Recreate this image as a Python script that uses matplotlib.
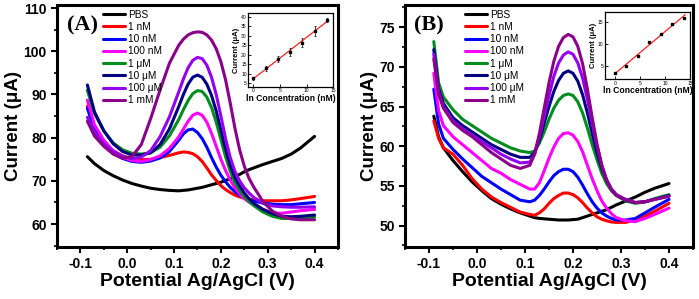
import numpy as np
import matplotlib
matplotlib.use("Agg")
import matplotlib.pyplot as plt
from matplotlib.ticker import MultipleLocator

plt.rcParams['font.family'] = ['Liberation Sans', 'DejaVu Sans']

labels = ["PBS", "1 nM", "10 nM", "100 nM", "1 \u03bcM", "10 \u03bcM", "100 \u03bcM", "1 mM"]
colors = ["#000000", "#ff0000", "#0000ff", "#ff00ff", "#008c1e", "#000080", "#9400f0", "#8b008b"]

# ---------------- Panel A data ----------------
xa = [-0.085, -0.07, -0.05, -0.03, -0.01, 0.01, 0.03, 0.05, 0.07, 0.09, 0.11, 0.12,
      0.13, 0.14, 0.15, 0.16, 0.17, 0.18, 0.19, 0.20, 0.21, 0.22, 0.23, 0.24, 0.25,
      0.26, 0.27, 0.29, 0.31, 0.33, 0.35, 0.37, 0.40]
a_pbs = [75.6, 74.0, 72.4, 71.2, 70.2, 69.4, 68.8, 68.3, 68.0, 67.8, 67.7, 67.8,
         67.9, 68.1, 68.3, 68.5, 68.8, 69.1, 69.4, 69.7, 70.1, 70.5, 71.0, 71.5, 72.1,
         72.6, 73.0, 73.8, 74.5, 75.2, 76.2, 77.6, 80.3]
a_1nM = [87.3, 82.0, 78.8, 77.0, 75.8, 75.1, 74.9, 75.0, 75.4, 75.9, 76.5, 76.7,
         76.6, 76.3, 75.6, 74.5, 73.0, 71.4, 70.1, 68.9, 68.0, 67.3, 66.7, 66.3, 66.0,
         65.8, 65.6, 65.4, 65.4, 65.4, 65.6, 65.9, 66.4]
a_10nM = [86.8, 81.8, 78.6, 76.6, 75.2, 74.5, 74.3, 74.6, 75.3, 76.8, 79.4, 80.9,
          81.8, 82.0, 81.2, 79.8, 77.8, 75.4, 73.2, 71.3, 69.8, 68.5, 67.5, 66.7, 66.1,
          65.6, 65.3, 64.9, 64.6, 64.5, 64.5, 64.7, 65.0]
a_100nM = [88.7, 83.0, 79.4, 77.0, 75.5, 74.7, 74.5, 74.9, 75.8, 77.5, 80.2, 82.0,
           83.8, 85.2, 85.7, 85.2, 83.6, 81.0, 78.0, 75.0, 72.4, 70.2, 68.4, 67.0, 65.9,
           65.1, 64.5, 63.4, 62.6, 62.5, 62.8, 63.1, 63.4]
a_1uM = [91.0, 85.6, 81.6, 78.8, 77.2, 76.4, 76.2, 76.5, 77.8, 80.4, 84.2, 86.5,
         88.6, 90.2, 90.9, 90.7, 89.4, 87.0, 83.6, 79.6, 75.6, 72.2, 69.6, 67.8, 66.4,
         65.2, 64.3, 62.8, 61.8, 61.3, 61.3, 61.4, 61.6]
a_10uM = [92.2, 86.0, 81.6, 78.6, 76.8, 76.0, 76.0, 76.5, 78.4, 82.0, 87.2, 90.0,
          92.4, 94.0, 94.5, 94.0, 92.4, 89.8, 86.2, 81.8, 77.4, 73.6, 70.8, 68.8, 67.2,
          65.9, 64.8, 63.4, 62.4, 61.8, 61.7, 61.8, 62.1]
a_100uM = [84.7, 81.2, 78.6, 76.8, 75.7, 75.1, 75.5, 77.0, 80.2, 84.8, 90.6, 93.6,
           96.2, 97.9, 98.6, 98.3, 96.8, 94.0, 90.0, 85.0, 79.8, 75.4, 72.2, 70.0, 68.4,
           67.2, 66.2, 64.8, 64.2, 64.0, 63.9, 63.9, 64.0]
a_1mM = [83.8, 80.4, 78.0, 76.2, 75.2, 75.6, 78.4, 84.4, 91.0, 97.2, 101.4, 102.8,
         103.8, 104.3, 104.5, 104.4, 103.8, 102.6, 100.6, 97.6, 93.4, 88.0, 82.2, 77.2, 73.4,
         70.6, 68.6, 65.2, 63.0, 61.8, 61.2, 61.0, 61.0]

# ---------------- Panel B data ----------------
xb = [-0.09, -0.08, -0.07, -0.05, -0.03, -0.01, 0.01, 0.03, 0.05, 0.07, 0.09,
      0.11, 0.12, 0.13, 0.14, 0.15, 0.16, 0.17, 0.18, 0.19, 0.20, 0.21, 0.22, 0.23,
      0.24, 0.25, 0.26, 0.27, 0.28, 0.29, 0.31, 0.33, 0.35, 0.37, 0.40]
b_pbs = [63.8, 61.2, 59.8, 58.2, 56.8, 55.5, 54.4, 53.4, 52.7, 52.1, 51.6,
         51.2, 51.0, 50.9, 50.85, 50.8, 50.75, 50.7, 50.7, 50.7, 50.75, 50.8, 51.0, 51.2,
         51.4, 51.6, 51.8, 52.0, 52.3, 52.6, 53.1, 53.6, 54.2, 54.7, 55.3]
b_1nM = [63.2, 61.0, 59.8, 59.0, 57.6, 55.9, 54.6, 53.6, 52.9, 52.3, 51.7,
         51.4, 51.3, 51.6, 52.1, 52.8, 53.4, 53.8, 54.1, 54.1, 53.9, 53.5, 52.9, 52.2,
         51.6, 51.1, 50.8, 50.6, 50.45, 50.4, 50.4, 50.7, 51.2, 51.8, 52.8]
b_10nM = [67.2, 62.8, 61.0, 59.6, 58.4, 57.3, 56.2, 55.4, 54.6, 53.9, 53.2,
          53.0, 53.2, 53.8, 54.6, 55.5, 56.3, 56.8, 57.1, 57.1, 56.8, 56.1, 55.1, 54.0,
          53.0, 52.2, 51.6, 51.2, 50.9, 50.7, 50.7, 50.9, 51.6, 52.3, 53.3]
b_100nM = [69.2, 64.5, 62.6, 61.2, 60.2, 59.2, 58.2, 57.2, 56.6, 55.8, 55.2,
           54.6, 54.6, 55.4, 56.9, 58.5, 59.9, 61.0, 61.6, 61.7, 61.4, 60.6, 59.3, 57.6,
           55.9, 54.4, 53.1, 52.2, 51.5, 51.0, 50.6, 50.5, 50.9, 51.4, 52.2]
b_1uM = [73.2, 68.0, 66.2, 64.6, 63.4, 62.6, 61.8, 61.0, 60.4, 59.8, 59.4,
         59.2, 59.4, 60.4, 61.8, 63.4, 64.8, 65.8, 66.4, 66.6, 66.4, 65.6, 64.2, 62.3,
         60.2, 58.3, 56.6, 55.3, 54.4, 53.8, 53.1, 52.8, 53.0, 53.4, 53.9]
b_10uM = [72.2, 67.2, 65.4, 63.6, 62.6, 61.8, 61.0, 60.2, 59.6, 59.0, 58.6,
          58.6, 59.2, 60.8, 62.9, 65.0, 66.9, 68.3, 69.2, 69.5, 69.2, 68.2, 66.5, 64.2,
          61.6, 59.2, 57.2, 55.7, 54.6, 53.9, 53.2, 52.9, 53.0, 53.3, 53.8]
b_100uM = [71.6, 66.8, 65.0, 63.2, 62.2, 61.4, 60.6, 59.8, 59.0, 58.4, 57.9,
           58.0, 59.0, 61.2, 63.8, 66.4, 68.8, 70.5, 71.5, 71.9, 71.6, 70.5, 68.6, 65.9,
           62.9, 60.0, 57.6, 55.8, 54.6, 53.9, 53.3, 52.9, 53.0, 53.3, 53.7]
b_1mM = [71.0, 66.6, 64.8, 63.0, 62.0, 61.2, 60.2, 59.2, 58.4, 57.6, 57.2,
         57.6, 59.0, 61.6, 64.8, 68.0, 70.7, 72.6, 73.7, 74.1, 73.8, 72.6, 70.4, 67.2,
         63.6, 60.3, 57.6, 55.7, 54.5, 53.8, 53.2, 52.9, 53.0, 53.3, 53.7]

# ---------------- Inset data ----------------
ln_conc = [0, 2.3, 4.6, 6.9, 9.2, 11.5, 13.8]
ins_a = [7.6, 12.9, 17.6, 21.6, 26.4, 32.5, 38.3]
ins_a_err = [0.8, 1.3, 1.5, 2.0, 2.5, 2.5, 1.0]
ins_b = [3.5, 5.0, 7.4, 10.4, 12.4, 14.6, 16.0]

series_a = [a_pbs, a_1nM, a_10nM, a_100nM, a_1uM, a_10uM, a_100uM, a_1mM]
series_b = [b_pbs, b_1nM, b_10nM, b_100nM, b_1uM, b_10uM, b_100uM, b_1mM]

fig = plt.figure(figsize=(6.99, 2.99), dpi=100)
axA = fig.add_axes([0.0815, 0.174, 0.402, 0.809])
axB = fig.add_axes([0.5794, 0.174, 0.412, 0.809])


def style_main(ax):
    for s in ax.spines.values():
        s.set_linewidth(2.2)
    ax.tick_params(which='major', direction='out', length=4, width=1.5, labelsize=10)
    ax.tick_params(which='minor', direction='out', length=2.5, width=1.2)
    for lab in ax.get_xticklabels() + ax.get_yticklabels():
        lab.set_fontweight('bold')
    ax.set_xlabel("Potential Ag/AgCl (V)", fontsize=14, fontweight='bold', labelpad=1)
    ax.set_ylabel("Current (\u03bcA)", fontsize=13.5, fontweight='bold', labelpad=1)


for ys, c, lab in zip(series_a, colors, labels):
    axA.plot(xa, ys, color=c, lw=2.2, label=lab, solid_capstyle='round', solid_joinstyle='round')
axA.set_xlim(-0.15, 0.45)
axA.set_ylim(54.7, 110.7)
axA.xaxis.set_minor_locator(MultipleLocator(0.05))
axA.yaxis.set_major_locator(MultipleLocator(10))
axA.yaxis.set_minor_locator(MultipleLocator(5))
axA.set_xticks([-0.1, 0.0, 0.1, 0.2, 0.3, 0.4])
axA.set_xticklabels(["-0.1", "0.0", "0.1", "0.2", "0.3", "0.4"])
style_main(axA)
axA.text(0.035, 0.955, "(A)", transform=axA.transAxes, fontsize=16, fontweight='bold',
         family=['Liberation Serif'], va='top', ha='left')
axA.legend(loc='upper left', bbox_to_anchor=(0.14, 1.01), frameon=False, fontsize=7.3,
           handlelength=2.1, handletextpad=0.3, labelspacing=0.22, borderpad=0.2)

for ys, c, lab in zip(series_b, colors, labels):
    axB.plot(xb, ys, color=c, lw=2.2, label=lab, solid_capstyle='round', solid_joinstyle='round')
axB.set_xlim(-0.15, 0.45)
axB.set_ylim(47.3, 77.8)
axB.xaxis.set_minor_locator(MultipleLocator(0.05))
axB.yaxis.set_major_locator(MultipleLocator(5))
axB.yaxis.set_minor_locator(MultipleLocator(2.5))
axB.set_xticks([-0.1, 0.0, 0.1, 0.2, 0.3, 0.4])
axB.set_xticklabels(["-0.1", "0.0", "0.1", "0.2", "0.3", "0.4"])
style_main(axB)
axB.text(0.03, 0.955, "(B)", transform=axB.transAxes, fontsize=16, fontweight='bold',
         family=['Liberation Serif'], va='top', ha='left')
axB.legend(loc='upper left', bbox_to_anchor=(0.185, 1.01), frameon=False, fontsize=7.3,
           handlelength=2.1, handletextpad=0.3, labelspacing=0.22, borderpad=0.2)


def style_inset(ax):
    for s in ax.spines.values():
        s.set_linewidth(0.9)
    ax.tick_params(which='major', direction='in', length=2, width=0.6, labelsize=3.6, pad=1)
    ax.set_xlabel("ln Concentration (nM)", fontsize=6.2, fontweight='bold', labelpad=0.5)
    ax.set_ylabel("Current (\u03bcA)", fontsize=5.5, fontweight='bold', labelpad=0.5)


insA = fig.add_axes([0.355, 0.709, 0.1216, 0.2475])
fitA = np.polyfit(ln_conc, ins_a, 1)
xx = np.array([0, 14])
insA.plot(xx, np.polyval(fitA, xx), color='#ff2020', lw=0.9)
insA.errorbar(ln_conc, ins_a, yerr=ins_a_err, fmt='s', color='black', ms=2, capsize=1,
              elinewidth=0.5, capthick=0.5)
insA.set_xlim(-1, 15)
insA.set_ylim(3, 42)
insA.set_xticks([0, 5, 10, 15])
insA.set_yticks([5, 10, 15, 20, 25, 30, 35, 40])
style_inset(insA)

insB = fig.add_axes([0.8655, 0.735, 0.1216, 0.224])
fitB = np.polyfit(ln_conc, ins_b, 1)
insB.plot(xx, np.polyval(fitB, xx), color='#ff2020', lw=0.9)
insB.plot(ln_conc, ins_b, 's', color='black', ms=2)
insB.set_xlim(-2, 15)
insB.set_ylim(2, 17.3)
insB.set_xticks([0, 5, 10, 15])
insB.set_yticks([5, 10, 15])
style_inset(insB)

fig.savefig("out.png", dpi=100)
